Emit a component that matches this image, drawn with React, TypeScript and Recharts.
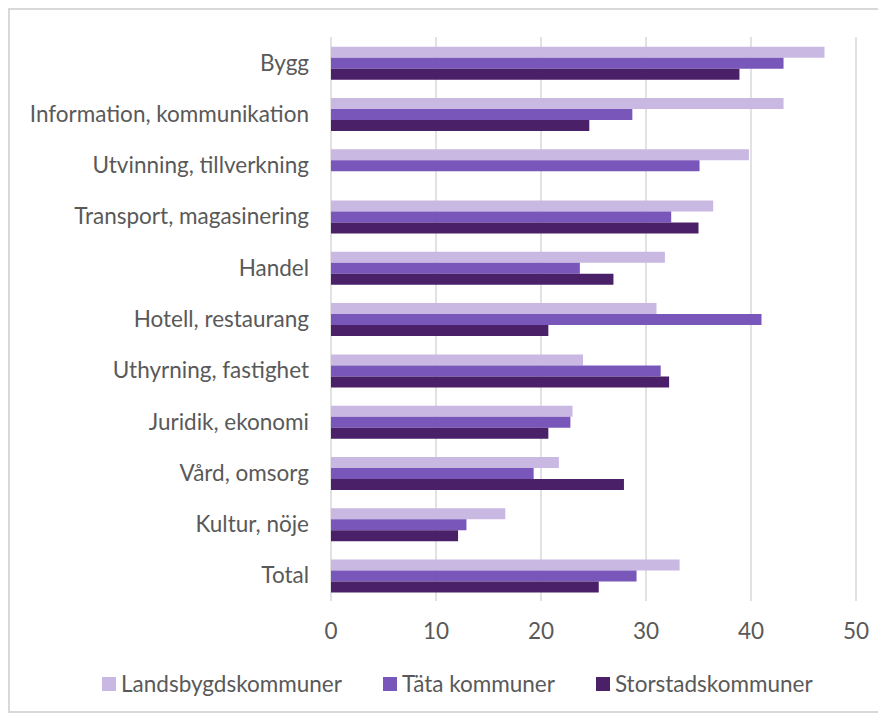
import React from 'react';
import { BarChart, Bar, XAxis, YAxis, CartesianGrid, Legend } from 'recharts';

const categories = [
  'Bygg',
  'Information, kommunikation',
  'Utvinning, tillverkning',
  'Transport, magasinering',
  'Handel',
  'Hotell, restaurang',
  'Uthyrning, fastighet',
  'Juridik, ekonomi',
  'Vård, omsorg',
  'Kultur, nöje',
  'Total',
];
const landsbygd = [47.0, 43.1, 39.8, 36.4, 31.8, 31.0, 24.0, 23.0, 21.7, 16.6, 33.2];
const tata = [43.1, 28.7, 35.1, 32.4, 23.7, 41.0, 31.4, 22.8, 19.3, 12.9, 29.1];
const storstad = [38.9, 24.6, null, 35.0, 26.9, 20.7, 32.2, 20.7, 27.9, 12.1, 25.5];
const xTicks = [0, 10, 20, 30, 40, 50];

const seriesNames = ['Landsbygdskommuner', 'Täta kommuner', 'Storstadskommuner'];
const colors = ['#C9B8E1', '#7957BA', '#4A2068'];

const data = categories.map((c, i) => ({
  name: c,
  l: landsbygd[i],
  t: tata[i],
  s: storstad[i],
}));

const FONT = 'Lato, "Open Sans", sans-serif';
const FS = 22.5;

const LegendContent = () => (
  <div style={{ display: 'flex', justifyContent: 'flex-start', alignItems: 'center', paddingLeft: 92, fontFamily: FONT, fontSize: FS, color: '#595959', lineHeight: '26px' }}>
    {seriesNames.map((n, i) => (
      <div key={n} style={{ display: 'flex', alignItems: 'center', marginRight: i < 2 ? 41 : 0 }}>
        <div style={{ width: 14, height: 14, background: colors[i], marginRight: 5 }} />
        <span>{n}</span>
      </div>
    ))}
  </div>
);

export default function App() {
  return (
    <div style={{ width: 870, height: 701, border: '2px solid #d9d9d9', position: 'relative', background: '#fff' }}>
      <BarChart
        width={870}
        height={701}
        data={data}
        layout="vertical"
        margin={{ top: 27, right: 24, bottom: 14, left: 0 }}
        barCategoryGap="19%"
        barGap={0}
      >
        <CartesianGrid horizontal={false} stroke="#d9d9d9" strokeWidth={1.5} />
        <XAxis
          type="number"
          domain={[0, 50]}
          ticks={xTicks}
          axisLine={false}
          tickLine={false}
          tickMargin={16}
          height={70}
          tick={{ fill: '#595959', fontSize: FS, fontFamily: FONT }}
        />
        <YAxis
          type="category"
          dataKey="name"
          width={321}
          axisLine={false}
          tickLine={false}
          tickSize={0}
          tickMargin={22}
          interval={0}
          tick={{ fill: '#595959', fontSize: FS, fontFamily: FONT }}
        />
        <Legend verticalAlign="bottom" wrapperStyle={{ left: 0, width: 870 }} content={<LegendContent />} />
        <Bar dataKey="l" name={seriesNames[0]} fill={colors[0]} isAnimationActive={false} />
        <Bar dataKey="t" name={seriesNames[1]} fill={colors[1]} isAnimationActive={false} />
        <Bar dataKey="s" name={seriesNames[2]} fill={colors[2]} isAnimationActive={false} />
      </BarChart>
    </div>
  );
}
